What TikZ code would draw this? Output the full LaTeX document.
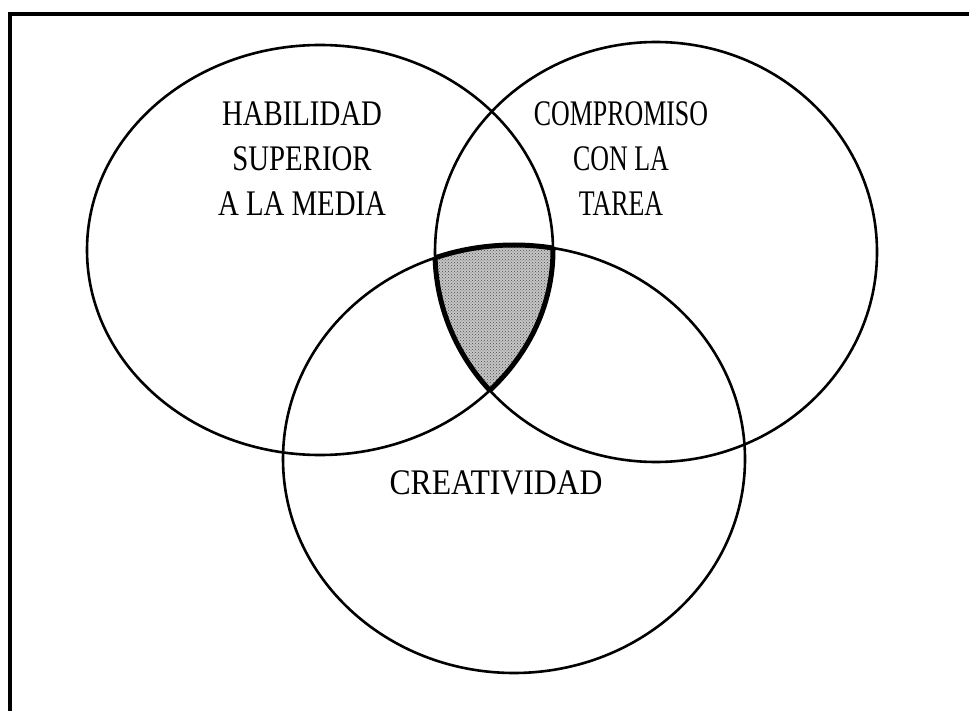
\documentclass[tikz,border=0pt]{standalone}
\usepackage{fontspec}
\setmainfont{Liberation Serif}
\usetikzlibrary{patterns}
\begin{document}
\begin{tikzpicture}[x=1pt,y=-1pt,
  circ/.style={line width=2.6pt},
  edge/.style={line width=5pt},
  lbl/.style={font=\fontsize{36}{45}\selectfont, align=center, inner sep=0pt},
  frame/.style={line width=4.5pt}]
\useasboundingbox (0,0) rectangle (969,711);
\def\cA{(320,250) ellipse [x radius=233pt, y radius=205pt]}
\def\cB{(656,252) ellipse [x radius=221pt, y radius=210pt]}
\def\cC{(514,459) ellipse [x radius=231pt, y radius=214pt]}
% frame (top and left)
\draw[frame] (969,14) -- (10,14) -- (10,711);
% shaded centre
\begin{scope}
  \clip \cA; \clip \cB;
  \fill[gray!45] \cC;
  \fill[pattern=crosshatch dots, pattern color=black!70] \cC;
\end{scope}
% circles
\draw[circ] \cA;
\draw[circ] \cB;
\draw[circ] \cC;
% thick outline of centre
\begin{scope}\clip \cA; \clip \cB; \draw[edge] \cC; \end{scope}
\begin{scope}\clip \cA; \clip \cC; \draw[edge] \cB; \end{scope}
\begin{scope}\clip \cB; \clip \cC; \draw[edge] \cA; \end{scope}
% labels
\renewcommand{\arraystretch}{1}
\node[lbl] (hab) at (302,162) {\scalebox{0.8}[1]{\begin{tabular}{@{}c@{}}HABILIDAD\\SUPERIOR\\A LA MEDIA\end{tabular}}};
\node[lbl] (com) at (621,162) {\scalebox{0.72}[1]{\begin{tabular}{@{}c@{}}COMPROMISO\\CON LA\\TAREA\end{tabular}}};
\node[lbl] (cre) at (496,483) {\scalebox{0.88}[1]{CREATIVIDAD}};
\end{tikzpicture}
\end{document}
